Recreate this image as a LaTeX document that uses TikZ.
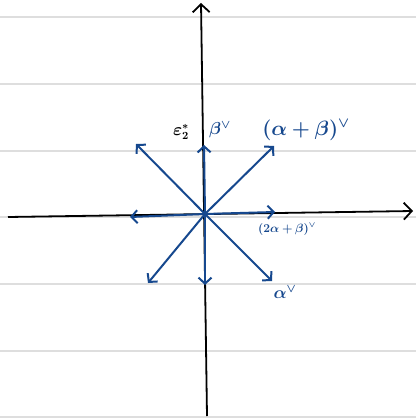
\documentclass[tikz,border=0pt]{standalone}
\usepackage{amsmath}
\usepackage{amssymb}
\usepackage{bm}
\usetikzlibrary{arrows.meta}

\definecolor{rootblue}{RGB}{22,72,142}
\definecolor{ruled}{RGB}{222,222,222}

\begin{document}
\begin{tikzpicture}[x=1pt, y=-1pt, >={Straight Barb[length=6pt,width=13pt]},
    axis/.style={black, line width=1.8pt},
    axistip/.style={-{Straight Barb[length=8pt,width=17pt]}},
    coroot/.style={->, rootblue, line width=2pt, line cap=round},
    rootlabel/.style={rootblue, inner sep=0pt}]
            \useasboundingbox (0,0) rectangle (416,419);
            \fill[white] (0,0) rectangle (416,419);
            % ruled paper
            \foreach \y in {17,84,151,217,284,351,417}
                \draw[ruled, line width=1.3pt] (0,\y) -- (416,\y);

            % axes
            \coordinate (O) at (205,214);
            \coordinate (xl) at (8,217);
            \coordinate (xr) at (413,211);
            \coordinate (yb) at (207,416);
            \coordinate (yt) at (201,3);
            \draw[axis, axistip] (xl) -- (xr);
            \draw[axis, axistip] (yb) -- (yt);

            % coroots
            \coordinate (beta) at (204,145);
            \coordinate (mbeta) at (205,285);
            \coordinate (twoab) at (275,212);
            \coordinate (mtwoab) at (130,217);
            \coordinate (ab) at (274,146);
            \coordinate (mab) at (148,283);
            \coordinate (alpha) at (272,281);
            \coordinate (malpha) at (136,144);
            \foreach \e in {beta,mbeta,twoab,mtwoab,ab,mab,alpha,malpha}
                \draw[coroot] (O) -- (\e);

            \node[rootlabel, font=\fontsize{18}{20}\selectfont] (lbeta) at (220,130) {$\bm{\beta^\vee}$};
            \node[rootlabel, font=\fontsize{20}{22}\selectfont] (lab) at (306,130) {$\bm{(\alpha+\beta)^\vee}$};
            \node[rootlabel, font=\fontsize{12}{14}\selectfont] (ltwoab) at (287,229) {$\bm{(2\alpha+\beta)^\vee}$};
            \node[rootlabel, font=\fontsize{17}{19}\selectfont] (lalpha) at (285,292) {$\bm{\alpha^\vee}$};
            \node[inner sep=0pt, font=\fontsize{16}{18}\selectfont] (leps) at (181,132) {$\bm{\varepsilon_2^*}$};
        \end{tikzpicture}
\end{document}
